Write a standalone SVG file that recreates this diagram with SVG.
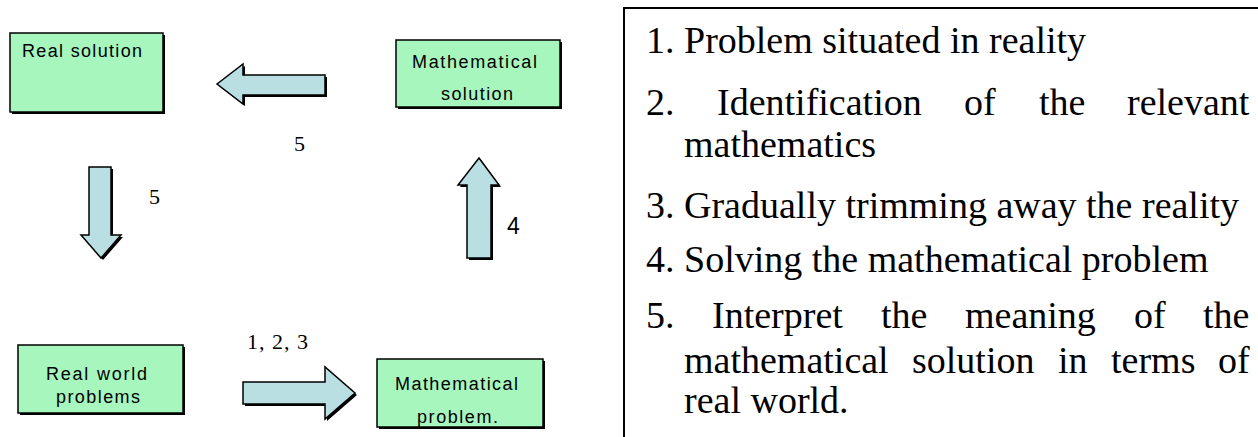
<svg xmlns="http://www.w3.org/2000/svg" width="1258" height="437" viewBox="0 0 1258 437">
<style>
.box{fill:#a6f6bd;stroke:#000;stroke-width:1.5}
.shadow{fill:#000}
.arrow{fill:#b9dfe3;stroke:#000;stroke-width:1.5;stroke-linejoin:miter}
.bt{font-family:"Liberation Sans",Arial,sans-serif;font-size:18px;fill:#000}
.lbl{font-family:"Liberation Serif","Times New Roman",serif;font-size:22px;fill:#000}
.lbls{font-family:"Liberation Sans",Arial,sans-serif;font-size:23px;fill:#000}
.lt{font-family:"Liberation Serif","Times New Roman",serif;font-size:38px;fill:#000}
</style>
<rect width="1258" height="437" fill="#fff"/>

<g id="connectors">
  <g id="arrow-left">
    <polygon class="shadow" points="219,86 245,66 245,77 327,77 327,97 245,97 245,106"/>
    <polygon class="arrow" points="217,84 243,64 243,75 325,75 325,95 243,95 243,104"/>
  </g>
  <g id="arrow-down">
    <polygon class="shadow" points="91,169 113,169 113,237 123,237 103,260 83,237 91,237"/>
    <polygon class="arrow" points="89,167 111,167 111,235 121,235 101,258 81,235 89,235"/>
  </g>
  <g id="arrow-up">
    <polygon class="shadow" points="481,160 501,187 493,187 493,260 469,260 469,187 460,187"/>
    <polygon class="arrow" points="479,158 499,185 491,185 491,258 467,258 467,185 458,185"/>
  </g>
  <g id="arrow-right">
    <polygon class="shadow" points="245,384 327,384 327,369 357,395 327,421 327,406 245,406"/>
    <polygon class="arrow" points="243,382 325,382 325,367 355,393 325,419 325,404 243,404"/>
  </g>
  <text class="lbl" x="294" y="151">5</text>
  <text class="lbl" x="149" y="204">5</text>
  <text class="lbls" x="507" y="234">4</text>
  <text class="lbl" x="247" y="349" textLength="61" lengthAdjust="spacing">1, 2, 3</text>
</g>

<g id="node-real-solution">
  <rect class="shadow" x="12" y="35" width="153" height="79"/>
  <rect class="box" x="10" y="33" width="153" height="79"/>
  <text class="bt" x="22" y="57" textLength="120" lengthAdjust="spacing">Real solution</text>
</g>

<g id="node-math-solution">
  <rect class="shadow" x="398" y="42" width="164" height="67"/>
  <rect class="box" x="396" y="40" width="164" height="67"/>
  <text class="bt" x="412" y="68" textLength="125" lengthAdjust="spacing">Mathematical</text>
  <text class="bt" x="441" y="100" textLength="72" lengthAdjust="spacing">solution</text>
</g>

<g id="node-real-world">
  <rect class="shadow" x="20" y="347" width="165" height="68"/>
  <rect class="box" x="18" y="345" width="165" height="68"/>
  <text class="bt" x="46" y="380" textLength="101" lengthAdjust="spacing">Real world</text>
  <text class="bt" x="56" y="403" textLength="84" lengthAdjust="spacing">problems</text>
</g>

<g id="node-math-problem">
  <rect class="shadow" x="379" y="361" width="166" height="68"/>
  <rect class="box" x="377" y="359" width="166" height="68"/>
  <text class="bt" x="395" y="390" textLength="123" lengthAdjust="spacing">Mathematical</text>
  <text class="bt" x="417" y="423" textLength="81" lengthAdjust="spacing">problem.</text>
</g>

<g id="legend">
  <path d="M624,437 V8 H1258" fill="none" stroke="#000" stroke-width="2"/>
  <text class="lt" x="646" y="53">1. Problem situated in reality</text>
  <text class="lt" y="115"><tspan x="646">2.</tspan><tspan x="717">Identification</tspan><tspan x="964">of</tspan><tspan x="1039">the</tspan><tspan x="1127">relevant</tspan></text>
  <text class="lt" x="684" y="157">mathematics</text>
  <text class="lt" x="646" y="218">3. Gradually trimming away the reality</text>
  <text class="lt" x="646" y="272">4. Solving the mathematical problem</text>
  <text class="lt" y="328"><tspan x="646">5.</tspan><tspan x="712">Interpret</tspan><tspan x="881">the</tspan><tspan x="965">meaning</tspan><tspan x="1134">of</tspan><tspan x="1203">the</tspan></text>
  <text class="lt" y="373"><tspan x="684">mathematical</tspan><tspan x="912">solution</tspan><tspan x="1058">in</tspan><tspan x="1111">terms</tspan><tspan x="1218">of</tspan></text>
  <text class="lt" x="684" y="413">real world.</text>
</g>
</svg>
